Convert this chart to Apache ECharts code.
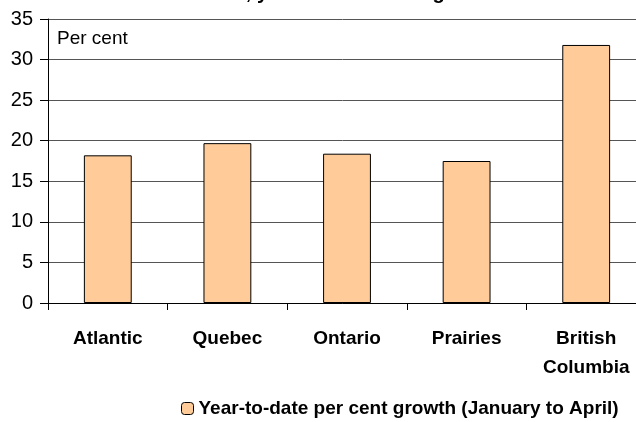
<!DOCTYPE html>
<html>
<head>
<meta charset="utf-8">
<script src="https://cdn.jsdelivr.net/npm/echarts@6/dist/echarts.min.js"></script>
<style>
  html, body { margin: 0; padding: 0; background: #fff; }
  #chart { width: 636px; height: 422px; }
</style>
</head>
<body>
<div id="chart"></div>
<script>
// regions and year-to-date growth, per cent
var regions = ['Atlantic', 'Quebec', 'Ontario', 'Prairies', 'British\nColumbia'];
var growth = [18.2, 19.7, 18.4, 17.5, 31.8];
var seriesName = 'Year-to-date per cent growth (January to April)';
var yTicks = { min: 0, max: 35, interval: 5 };

var font = 'Liberation Sans';
var chart = echarts.init(document.getElementById('chart'));

chart.setOption({
	animation: false,
	textStyle: { fontFamily: font },
	// title sits mostly above the frame, only the descenders show
	title: {
		text: 'Retail trade, year-to-date sales growth',
		left: 'center',
		top: -22,
		textStyle: { fontSize: 20, fontWeight: 'bold', color: '#000', fontFamily: font }
	},
	graphic: [{
		type: 'text',
		left: 57,
		top: 29,
		style: { text: 'Per cent', font: '19px ' + font, fill: '#000' }
	}],
	grid: { left: 48, top: 19, width: 598, height: 284, containLabel: false, outerBoundsMode: 'none' },
	legend: {
		bottom: -1,
		left: 176,
		itemWidth: 12,
		itemHeight: 12,
		itemGap: 5,
		data: [seriesName],
		itemStyle: { borderColor: '#000', borderWidth: 1 },
		textStyle: { fontSize: 19, fontWeight: 'bold', color: '#000', fontFamily: font }
	},
	xAxis: {
		type: 'category',
		data: regions,
		axisLine: { lineStyle: { color: '#000', width: 1 } },
		axisTick: { show: true, length: 7, lineStyle: { color: '#000' } },
		axisLabel: {
			color: '#000', fontSize: 19, fontWeight: 'bold', margin: 21, lineHeight: 29,
			interval: 0
		}
	},
	yAxis: {
		type: 'value',
		min: yTicks.min,
		max: yTicks.max,
		interval: yTicks.interval,
		axisLine: { show: true, lineStyle: { color: '#000', width: 1 } },
		axisTick: { show: true, inside: false, length: 8, lineStyle: { color: '#000' } },
		axisLabel: { color: '#000', fontSize: 20, margin: 15 },
		splitLine: { show: true, lineStyle: { color: '#555', width: 1 } }
	},
	series: [{
		name: seriesName,
		type: 'bar',
		data: growth,
		barWidth: '40%',
		itemStyle: { color: '#FFCC99', borderColor: '#000', borderWidth: 1 }
	}]
});
</script>
</body>
</html>
